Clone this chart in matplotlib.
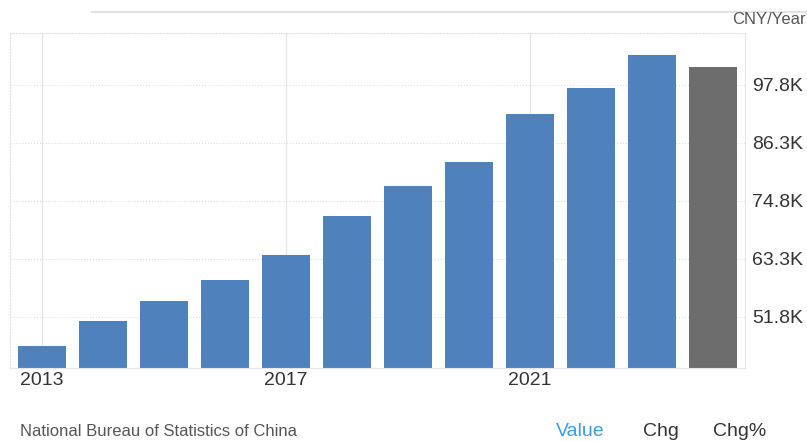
import matplotlib.pyplot as plt
from matplotlib.lines import Line2D

plt.rcParams['font.family'] = ['Liberation Sans', 'DejaVu Sans']

# Average yearly wages, CNY/Year (last bar is the grey one)
years = [2013, 2014, 2015, 2016, 2017, 2018, 2019, 2020, 2021, 2022, 2023, 2024]
values = [46.0, 51.0, 54.9, 59.1, 64.0, 71.8, 77.7, 82.5, 92.0, 97.2, 103.7, 101.3]
colors = ['#4f81bd'] * 11 + ['#6d6d6d']
ytick_vals = [51.8, 63.3, 74.8, 86.3, 97.8]
ytick_labels = ['51.8K', '63.3K', '74.8K', '86.3K', '97.8K']
xtick_years = [2013, 2017, 2021]

fig = plt.figure(figsize=(8.07, 4.42), dpi=100)
ax = fig.add_axes([0.0124, 0.1674, 0.9108, 0.7576])

x = list(range(len(years)))
ax.bar(x, values, width=0.78, color=colors, zorder=2)

ax.set_xlim(-0.52, len(years) - 0.48)
ax.set_ylim(41.6, 108.0)

xt = [years.index(y) for y in xtick_years]
ax.set_xticks(xt)
ax.set_xticklabels([str(y) for y in xtick_years], fontsize=14, color='#333333')
ax.yaxis.tick_right()
ax.set_yticks(ytick_vals)
ax.set_yticklabels(ytick_labels, fontsize=14, color='#333333')
ax.tick_params(axis='both', length=0)
ax.tick_params(axis='x', pad=3)
ax.tick_params(axis='y', pad=5)

ax.grid(axis='x', color='#e6e6e6', linewidth=1, zorder=0)
ax.grid(axis='y', color='#dddddd', linewidth=0.8, linestyle=':', zorder=0)

for side in ['top', 'left']:
    ax.spines[side].set_color('#e0e0e0')
    ax.spines[side].set_linestyle(':')
ax.spines['right'].set_color('#e6e6e6')
ax.spines['bottom'].set_color('#e6e6e6')

# top separator line
fig.add_artist(Line2D([92 / 807, 1.0], [1 - 12 / 442, 1 - 12 / 442],
                      color='#e3e3e3', linewidth=1.5))

fig.text(806 / 807, 1 - 20 / 442, 'CNY/Year', ha='right', va='center',
         fontsize=12, color='#555555')
fig.text(20 / 807, 1 - 432 / 442, 'National Bureau of Statistics of China',
         ha='left', va='center', fontsize=12, color='#555555')
fig.text(580 / 807, 1 - 432 / 442, 'Value', ha='center', va='center',
         fontsize=14, color='#3a9be8')
fig.text(661 / 807, 1 - 432 / 442, 'Chg', ha='center', va='center',
         fontsize=14, color='#333333')
fig.text(740 / 807, 1 - 432 / 442, 'Chg%', ha='center', va='center',
         fontsize=14, color='#333333')

fig.savefig('out.png', dpi=100)
